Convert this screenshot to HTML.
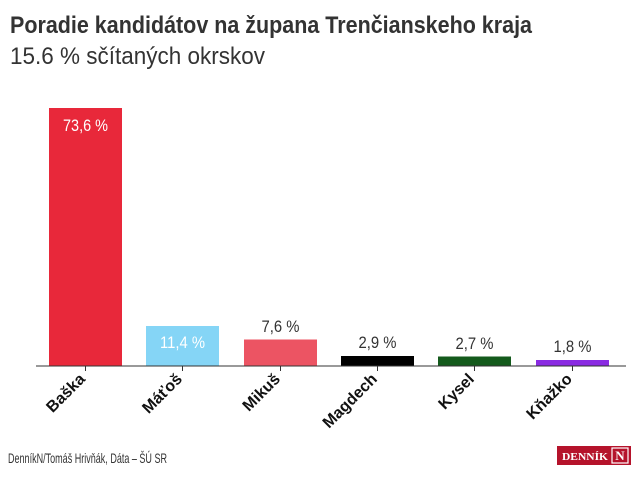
<!DOCTYPE html>
<html><head><meta charset="utf-8"><style>
html,body{margin:0;padding:0;background:#fff;}
svg{display:block;font-family:"Liberation Sans",sans-serif;}
</style></head><body>
<svg width="640" height="482" viewBox="0 0 640 482">
<text x="10" y="33" font-size="24" font-weight="bold" fill="#333" textLength="522" lengthAdjust="spacingAndGlyphs">Poradie kandidátov na župana Trenčianskeho kraja</text>
<text x="10" y="64" font-size="24" fill="#333" textLength="255" lengthAdjust="spacingAndGlyphs">15.6 % sčítaných okrskov</text>
<rect x="49" y="108" width="73" height="258" fill="#e8283a"/>
<rect x="146" y="326" width="73" height="40" fill="#85d5f6"/>
<rect x="244" y="339.5" width="73" height="26.5" fill="#ec5463"/>
<rect x="341" y="356" width="73" height="10" fill="#000"/>
<rect x="438" y="356.5" width="73" height="9.5" fill="#145a1c"/>
<rect x="536" y="360" width="73" height="6" fill="#8a2be2"/>
<g font-size="17" text-anchor="middle">
<text x="85.5" y="131" fill="#fff" textLength="45" lengthAdjust="spacingAndGlyphs">73,6 %</text>
<text x="182.5" y="348" fill="#fff" textLength="45" lengthAdjust="spacingAndGlyphs">11,4 %</text>
<text x="280.5" y="332" fill="#333" textLength="38" lengthAdjust="spacingAndGlyphs">7,6 %</text>
<text x="377.5" y="348" fill="#333" textLength="38" lengthAdjust="spacingAndGlyphs">2,9 %</text>
<text x="474.5" y="349" fill="#333" textLength="38" lengthAdjust="spacingAndGlyphs">2,7 %</text>
<text x="572.5" y="352" fill="#333" textLength="38" lengthAdjust="spacingAndGlyphs">1,8 %</text>
</g>
<line x1="36" y1="366" x2="626" y2="366" stroke="#333" stroke-width="1"/>
<g stroke="#333" stroke-width="1">
<line x1="85.5" y1="366" x2="85.5" y2="371"/><line x1="182.5" y1="366" x2="182.5" y2="371"/>
<line x1="280.5" y1="366" x2="280.5" y2="371"/><line x1="377.5" y1="366" x2="377.5" y2="371"/>
<line x1="474.5" y1="366" x2="474.5" y2="371"/><line x1="572.5" y1="366" x2="572.5" y2="371"/>
</g>
<g font-size="16" font-weight="bold" fill="#111" text-anchor="end">
<text transform="translate(86,380) rotate(-45)">Baška</text>
<text transform="translate(183,380) rotate(-45)">Máťoš</text>
<text transform="translate(281,380) rotate(-45)">Mikuš</text>
<text transform="translate(378,380) rotate(-45)">Magdech</text>
<text transform="translate(475,380) rotate(-45)">Kysel</text>
<text transform="translate(573,380) rotate(-45)">Kňažko</text>
</g>
<text x="8" y="463" font-size="14" fill="#333" textLength="159" lengthAdjust="spacingAndGlyphs">DenníkN/Tomáš Hrivňák, Dáta – ŠÚ SR</text>
<rect x="557" y="446" width="74" height="19" fill="#b5132b"/>
<text x="562" y="460" font-size="10" font-family="Liberation Serif,serif" font-weight="bold" fill="#fff" textLength="46" lengthAdjust="spacingAndGlyphs">DENNÍK</text>
<rect x="612" y="448" width="16" height="15" fill="none" stroke="#fff" stroke-width="1.2"/>
<text x="620" y="460" font-size="13" font-family="Liberation Serif,serif" font-weight="bold" fill="#fff" text-anchor="middle">N</text>
</svg>
</body></html>
